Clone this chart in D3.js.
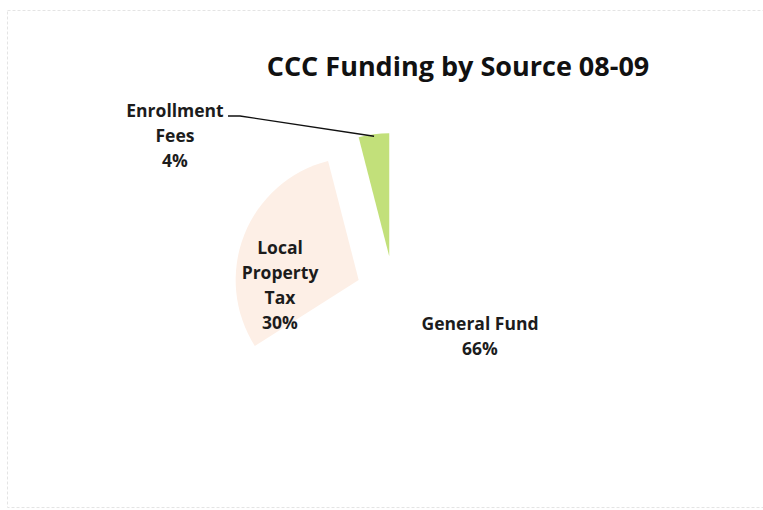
<!DOCTYPE html>
<html><head><meta charset="utf-8">
<script src="https://cdn.jsdelivr.net/npm/d3@7"></script>
<style>body{margin:0;background:#fff}svg{display:block}</style>
</head><body>
<script>
// Data
const categories = ["General Fund", "Local Property Tax", "Enrollment Fees"];
const values = [66, 30, 4];
const labelLines = [["General Fund", "66%"], ["Local", "Property", "Tax", "30%"], ["Enrollment", "Fees", "4%"]];
const colors = ["#ffffff", "#fdefe6", "#c2e07a"];
const title = "CCC Funding by Source 08-09";

const W = 763, H = 510;
const svg = d3.select("body").append("svg").attr("width", W).attr("height", H);

// faint frame from the scan
svg.append("rect").attr("x", 7.5).attr("y", 10.5).attr("width", 780).attr("height", 497)
  .attr("fill", "none").attr("stroke", "#e4e4e4").attr("stroke-dasharray", "3,2");

svg.append("text").attr("x", 458).attr("y", 76).attr("text-anchor", "middle")
  .attr("font-family", "Open Sans, sans-serif").attr("font-weight", 700).attr("font-size", 27)
  .attr("fill", "#111").text(title);

const cx = 394, cy = 294, r = 123, explode = 38;
const pie = d3.pie().sort(null).value(d => d)(values);
const arc = d3.arc().innerRadius(0).outerRadius(r);
const g = svg.append("g").attr("transform", `translate(${cx},${cy})`);

function off(d) {
  const a = (d.startAngle + d.endAngle) / 2;
  return [explode * Math.sin(a), -explode * Math.cos(a)];
}

g.selectAll("path").data(pie).join("path")
  .attr("d", arc)
  .attr("transform", d => { const o = off(d); return `translate(${o[0]},${o[1]})`; })
  .attr("fill", (d, i) => colors[i]);

// label positions (layout)
const labelPos = [[480, 330], [280, 254], [175, 117]];
const lineH = 25;
labelLines.forEach((lines, i) => {
  const t = svg.append("text").attr("text-anchor", "middle")
    .attr("font-family", "Open Sans, sans-serif").attr("font-weight", 700).attr("font-size", 17.5)
    .attr("fill", "#1c1c1c");
  lines.forEach((s, j) => t.append("tspan").attr("x", labelPos[i][0]).attr("y", labelPos[i][1] + j * lineH).text(s));
});

// leader line for Enrollment Fees
const ef = pie[2];
const o = off(ef);
const a = (ef.startAngle + ef.endAngle) / 2;
const ex = cx + o[0] + (r - 2) * Math.sin(a), ey = cy + o[1] - (r - 2) * Math.cos(a);
svg.append("polyline")
  .attr("points", `228,116 240,116 ${ex},${ey}`)
  .attr("fill", "none").attr("stroke", "#111").attr("stroke-width", 1.3);
</script>
</body></html>
